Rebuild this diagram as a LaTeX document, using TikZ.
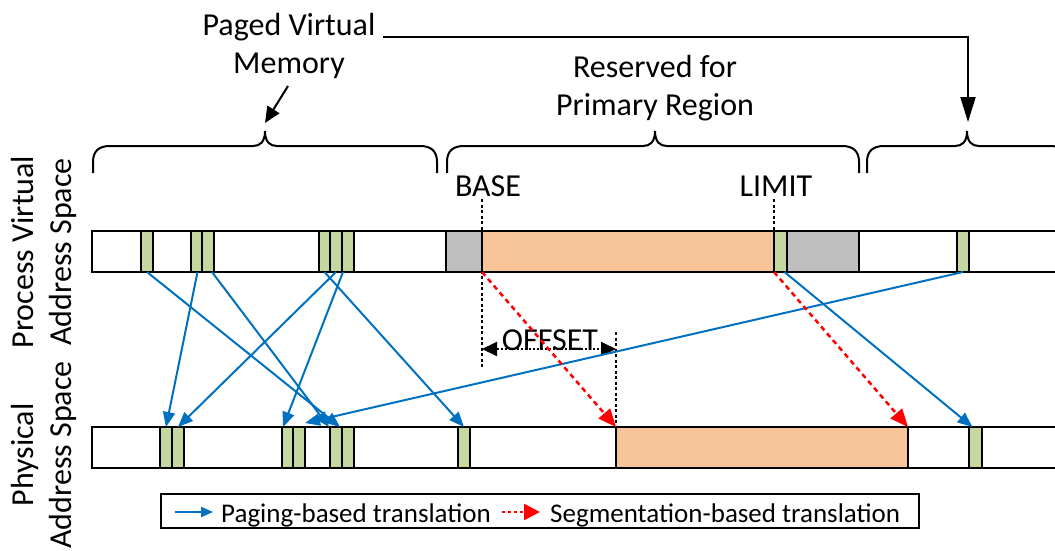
\documentclass[tikz,border=0pt]{standalone}
\usepackage{fontspec}
\setmainfont{Carlito}
\usetikzlibrary{arrows.meta,calc}
\definecolor{pagegreen}{RGB}{196,215,160}
\definecolor{segorange}{RGB}{248,196,154}
\definecolor{resgray}{RGB}{191,191,191}
\definecolor{pageblue}{RGB}{0,112,192}
\definecolor{segred}{RGB}{255,0,0}
% curly brace over a range of the virtual address space: left x, cusp x, right x
\newcommand\spanbrace[3]{%
  \draw[bracestyle] (#1,173) -- (#1,162) .. controls (#1,151) and (#1+6,146) .. (#1+17,146)
    -- (#2-12,146) .. controls (#2-5,146) and (#2,142) .. (#2,131)
    .. controls (#2,142) and (#2+5,146) .. (#2+12,146)
    -- (#3-17,146) .. controls (#3-6,146) and (#3,151) .. (#3,162) -- (#3,173);}
\begin{document}
\begin{tikzpicture}[x=1pt,y=-1pt,
  font=\fontsize{32}{38}\selectfont,
  cell/.style={draw=black,line width=2pt,minimum height=41pt,inner sep=0pt,outer sep=0pt,anchor=north west},
  free/.style={cell,fill=white},
  page/.style={cell,fill=pagegreen},
  resv/.style={cell,fill=resgray},
  prim/.style={cell,fill=segorange},
  bracestyle/.style={draw=black,line width=2pt},
  label/.style={inner sep=0pt,align=center},
  paging/.style={draw=pageblue,line width=2pt,-{Triangle[length=15pt,width=12pt]}},
  segm/.style={draw=segred,line width=2.5pt,dash pattern=on 5pt off 4pt,-{Triangle[length=18pt,width=15pt]}},
  guide/.style={draw=black,line width=1.5pt,dash pattern=on 3pt off 2.5pt},
  offarrow/.style={draw=black,line width=2pt,dash pattern=on 2pt off 2pt,{Triangle[length=15pt,width=14pt]}-{Triangle[length=15pt,width=14pt]}},
  callout/.style={draw=black,line width=2pt},
  legendtext/.style={inner sep=0pt,anchor=west,font=\fontsize{27}{32}\selectfont}
]
\path[use as bounding box] (0,0) rectangle (1055,550);
\clip (0,0) rectangle (1055,550);

% side captions
\node[label,rotate=90] (vlabel) at (44,252) {Process Virtual\\Address Space};
\node[label,rotate=90] (plabel) at (44,455) {Physical\\Address Space};

% top captions
\node[label] (pvm) at (289,46) {Paged Virtual\\Memory};
\node[label] (rpr) at (655,88) {Reserved for\\Primary Region};
\node[label] (base) at (488,186) {BASE};
\node[label] (limit) at (776,186) {LIMIT};

% braces over the virtual address space
\spanbrace{93}{265}{437}
\spanbrace{447}{655}{859}
\spanbrace{867}{967}{1067}

% callouts from the caption to the paged ranges
\coordinate (memfrom) at (288,86);
\coordinate (b1top) at (265,123);
\coordinate (pvline) at (383,37);
\coordinate (b3top) at (968,122);
\draw[callout,-{Triangle[length=16pt,width=14pt]}] (memfrom) -- (b1top);
\draw[callout,-{Triangle[length=25pt,width=15pt]}] (pvline) -| (b3top);

% base marker line (drawn behind the bar)
\draw[guide] (482,199) -- (482,367);
\draw[guide] (774,199) -- (774,231);

% process virtual address space
\node[free,minimum width=983pt] (vbar) at (92,231) {};
\node[page,minimum width=12pt] (v1) at (141,231) {};
\node[page,minimum width=11pt] (v2) at (191,231) {};
\node[page,minimum width=12pt] (v3) at (202,231) {};
\node[page,minimum width=11pt] (v4) at (319,231) {};
\node[page,minimum width=12pt] (v5) at (330,231) {};
\node[page,minimum width=12pt] (v6) at (342,231) {};
\node[resv,minimum width=36pt] (g1) at (446,231) {};
\node[prim,minimum width=292pt] (res) at (482,231) {};
\node[page,minimum width=13pt] (v8) at (774,231) {};
\node[resv,minimum width=72pt] (g2) at (787,231) {};
\node[page,minimum width=12pt] (v9) at (957,231) {};

% physical address space
\node[free,minimum width=983pt] (pbar) at (92,427) {};
\node[page,minimum width=12pt] (p1) at (160,427) {};
\node[page,minimum width=12pt] (p2) at (172,427) {};
\node[page,minimum width=11pt] (p3) at (282,427) {};
\node[page,minimum width=12pt] (p4) at (293,427) {};
\node[page,minimum width=12pt] (p5) at (330,427) {};
\node[page,minimum width=12pt] (p6) at (342,427) {};
\node[page,minimum width=12pt] (p7) at (458,427) {};
\node[prim,minimum width=292pt] (pprim) at (616,427) {};
\node[page,minimum width=13pt] (p9) at (969,427) {};

% offset between base and the physical region
\draw[guide] (616,332) -- (pprim.north west);
\coordinate (offL) at (482,349);
\coordinate (offR) at (616,349);
\draw[offarrow] (offL) -- (offR);
\node[label] (offset) at (550,340) {OFFSET};

% paging-based translations
\draw[paging] (v1.south) -- ($(p5.north east)+(-2,0)$);
\draw[paging] ($(v2.south)+(1,0)$) -- (p1.north);
\draw[paging] ($(v3.south)+(4,0)$) -- ($(p5.north west)+(-1,0)$);
\draw[paging] (v5.south) -- (p2.north);
\draw[paging] ($(v6.south west)+(1,0)$) -- ($(p3.north west)+(1,0)$);
\draw[paging] (v4.south) -- (p7.north);
\draw[paging] (v9.south) -- ($(p4.north east)+(0,-4)$);
\draw[paging] ($(v8.south)+(4,0)$) -- ($(p9.north)+(-3,0)$);

% segmentation-based translations
\draw[segm] (res.south west) -- (pprim.north west);
\draw[segm] (v8.south west) -- (pprim.north east);

% legend
\node[draw=black,line width=1.5pt,minimum width=758pt,minimum height=34pt,inner sep=0pt] (legend) at (540,511) {};
\coordinate (lpA) at (175,512);
\coordinate (lpB) at (213,512);
\coordinate (lsA) at (502,512);
\coordinate (lsB) at (540,512);
\draw[draw=pageblue,line width=2pt,-{Triangle[length=12pt,width=10pt]}] (lpA) -- (lpB);
\draw[draw=segred,line width=2.5pt,dash pattern=on 3pt off 3pt,-{Triangle[length=16pt,width=16pt]}] (lsA) -- (lsB);
\node[legendtext] (lp) at (221,515) {Paging-based translation};
\node[legendtext] (ls) at (550,515) {Segmentation-based translation};
\end{tikzpicture}
\end{document}
